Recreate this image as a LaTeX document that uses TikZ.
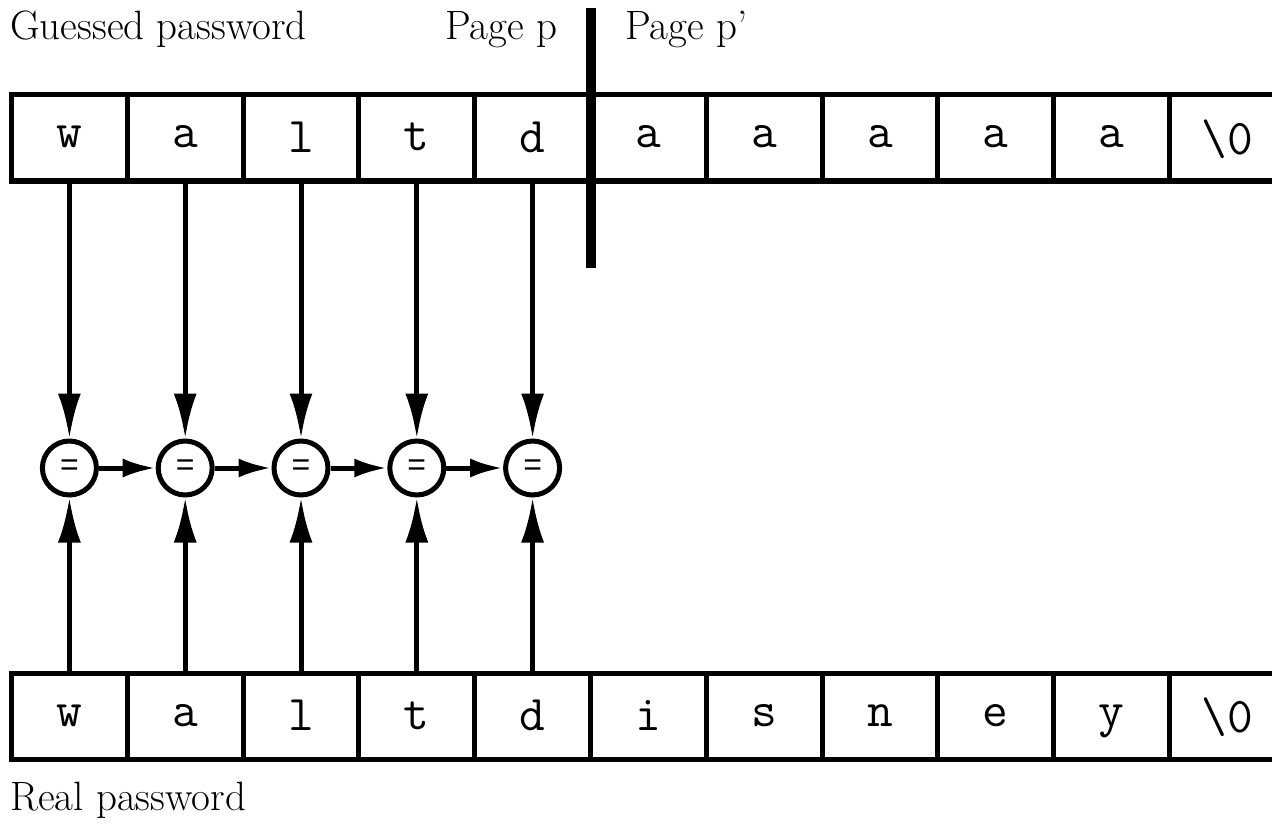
\documentclass[tikz,border=0pt]{standalone}
\usepackage{fontspec}
\newfontfamily\eqfont{Liberation Sans}
\usetikzlibrary{arrows.meta}

\tikzset{
  cell/.style={draw, line width=5pt, minimum width=115.8pt, minimum height=86pt,
    inner sep=0pt, text depth=2pt, font=\ttfamily\fontsize{50}{50}\selectfont},
  cmp/.style={draw, circle, line width=5pt, minimum size=54pt, inner sep=0pt,
    fill=white, font=\eqfont\fontsize{32}{32}\selectfont},
  label/.style={inner sep=0pt, font=\fontsize{41}{44}\selectfont},
  vflow/.style={line width=5pt, -{Latex[length=45pt,width=23pt]}},
  hflow/.style={line width=5pt, -{Latex[length=33pt,width=19pt]}},
  pagebreak/.style={line width=10pt}
}

\begin{document}
\begin{tikzpicture}[x=1pt,y=-1pt]
\useasboundingbox (0,0) rectangle (1272,824);

% guessed password buffer (top) and real password buffer (bottom)
\foreach \c [count=\i from 0] in {w,a,l,t,d,a,a,a,a,a,\textbackslash 0}
  \node[cell] (g\i) at ({11.5+115.8*(\i+0.5)},138) {\c};
\foreach \c [count=\i from 0] in {w,a,l,t,d,i,s,n,e,y,\textbackslash 0}
  \node[cell] (r\i) at ({11.5+115.8*(\i+0.5)},716.5) {\c};

% character comparators
\foreach \i in {0,...,4}
  \node[cmp] (e\i) at ({11.5+115.8*(\i+0.5)},468) {=};

\foreach \i in {0,...,4} {
  \draw[vflow] (g\i.south) -- (e\i.north);
  \draw[vflow] (r\i.north) -- (e\i.south);
}
\foreach \i/\j in {0/1,1/2,2/3,3/4}
  \draw[hflow] (e\i.east) -- (e\j.west);

% page boundary between p and p'
\coordinate (pbTop) at ({11.5+115.8*5},8);
\coordinate (pbBot) at ({11.5+115.8*5},268);
\draw[pagebreak] (pbTop) -- (pbBot);

% captions
\node[label, anchor=base west] (guess) at (10,40) {Guessed password};
\node[label, anchor=base west] (pagep) at (445,40) {Page p};
\node[label, anchor=base west] (pagepp) at (625,40) {Page p'};
\node[label, anchor=base west] (real) at (10,810) {Real password};
\end{tikzpicture}
\end{document}
